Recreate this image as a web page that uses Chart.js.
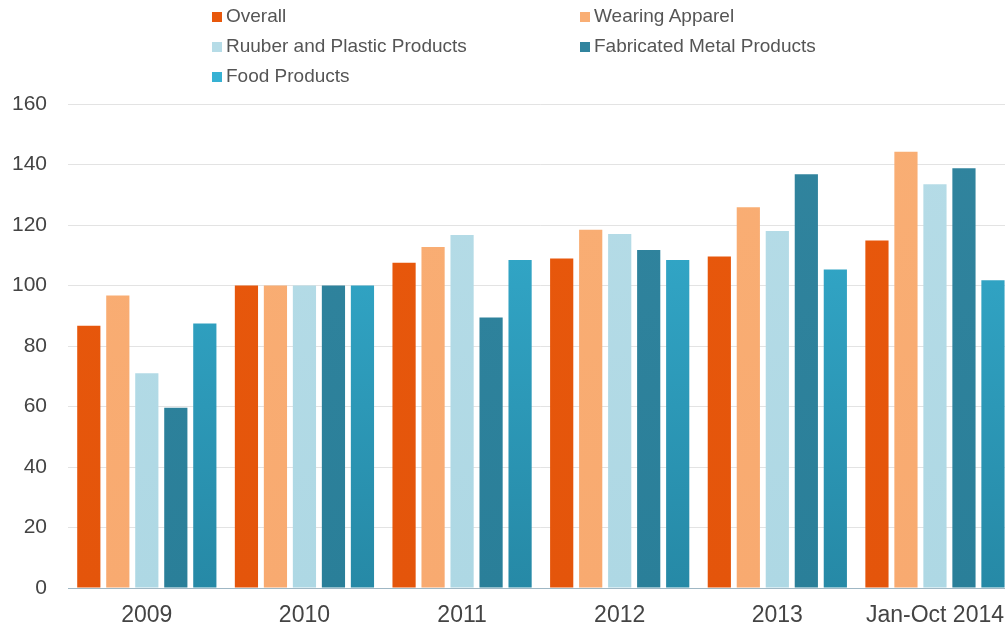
<!DOCTYPE html>
<html>
<head>
<meta charset="utf-8">
<script src="https://cdn.jsdelivr.net/npm/chart.js@4.4.1/dist/chart.umd.min.js"></script>
<style>
  html, body { margin: 0; padding: 0; background: #fff; overflow: hidden; }
  #wrap { position: absolute; left: 0; top: 0; width: 1018px; height: 631px; }
  #legend { position: absolute; left: 0; top: 0; width: 1005px; height: 95px;
            font-family: "Liberation Sans", Arial, sans-serif; font-size: 19px; color: #555; }
  .item { position: absolute; white-space: nowrap; line-height: 22px; }
  .box { display: inline-block; width: 10px; height: 10px; margin-right: 4px; vertical-align: 0px; }
</style>
</head>
<body>
<div id="wrap"><canvas id="chart"></canvas></div>
<div id="legend"></div>
<script>
// categories and series
const categories = ['2009', '2010', '2011', '2012', '2013', 'Jan-Oct 2014'];
const seriesNames = ['Overall', 'Wearing Apparel', 'Ruuber and Plastic Products', 'Fabricated Metal Products', 'Food Products'];
const overall = [86.7, 100, 107.5, 108.9, 109.6, 114.9];
const wearingApparel = [96.7, 100, 112.7, 118.4, 125.9, 144.2];
const rubberPlastic = [71, 100, 116.7, 117, 118, 133.5];
const fabricatedMetal = [59.6, 100, 89.4, 111.7, 136.8, 138.8];
const foodProducts = [87.4, 100, 108.4, 108.4, 105.3, 101.7];
const yTicks = [0, 20, 40, 60, 80, 100, 120, 140, 160];

const topColors = ['#e8580c', '#f9ae74', '#b6dce7', '#31849e', '#36b1d3'];
const bottomColors = ['#e4550b', '#f8aa70', '#aed8e4', '#2a7f99', '#2689a6'];

function gradientFor(i) {
  return function (ctx) {
    const chart = ctx.chart;
    const area = chart.chartArea;
    if (!area) return topColors[i];
    const g = chart.ctx.createLinearGradient(0, area.top, 0, area.bottom);
    g.addColorStop(0, topColors[i]);
    g.addColorStop(1, bottomColors[i]);
    return g;
  };
}

const allSeries = [overall, wearingApparel, rubberPlastic, fabricatedMetal, foodProducts];

const chart = new Chart(document.getElementById('chart'), {
  type: 'bar',
  data: {
    labels: categories,
    datasets: allSeries.map((d, i) => ({
      label: seriesNames[i],
      data: d,
      backgroundColor: gradientFor(i),
      borderWidth: 0,
      categoryPercentage: 0.92,
      barPercentage: 0.8
    }))
  },
  options: {
    responsive: true,
    maintainAspectRatio: false,
    animation: false,
    layout: { padding: { top: 104, left: 8, right: 0, bottom: 0 } },
    plugins: { legend: { display: false }, tooltip: { enabled: false } },
    scales: {
      x: {
        afterFit: (axis) => { axis.height = 43; },
        grid: { display: false, drawTicks: false },
        border: { color: '#9fb7c4', width: 1 },
        ticks: { color: '#444', font: { family: '"Liberation Sans", Arial, sans-serif', size: 23 }, padding: 14, maxRotation: 0, autoSkip: false }
      },
      y: {
        min: 0, max: 160,
        afterBuildTicks: (axis) => { axis.ticks = yTicks.map(v => ({ value: v })); },
        afterFit: (axis) => { axis.width = 60; },
        grid: { color: '#e3e3e3', drawTicks: false },
        border: { display: false },
        ticks: { color: '#444', font: { family: '"Liberation Sans", Arial, sans-serif', size: 21 }, padding: 21 }
      }
    }
  }
});

// two-column legend like the original
const legend = document.getElementById('legend');
const colX = [212, 580];
const rowY = [5, 35, 65];
seriesNames.forEach((name, i) => {
  const el = document.createElement('div');
  el.className = 'item';
  el.style.left = colX[i % 2] + 'px';
  el.style.top = rowY[Math.floor(i / 2)] + 'px';
  el.innerHTML = '<span class="box" style="background:' + topColors[i] + '"></span>' + name;
  legend.appendChild(el);
});
</script>
</body>
</html>
